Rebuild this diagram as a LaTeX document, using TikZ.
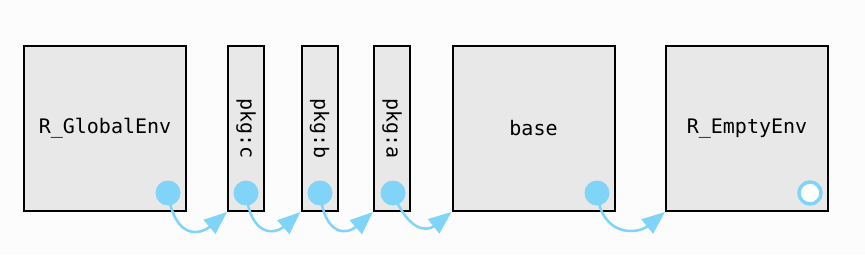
\documentclass[tikz,border=0pt]{standalone}
\usepackage{fontspec}
\setmonofont{DejaVu Sans Mono}
\usetikzlibrary{arrows.meta}
\definecolor{bgc}{HTML}{FCFCFC}
\definecolor{boxc}{HTML}{E8E8E8}
\definecolor{dotc}{HTML}{7FD4F8}
\begin{document}
\begin{tikzpicture}[x=1pt,y=1pt,
  envbox/.style={draw=black,fill=boxc,line width=2pt,minimum height=165pt,inner sep=0pt,font=\ttfamily\fontsize{20}{24}\selectfont},
  bigbox/.style={envbox,minimum width=162pt},
  pkgbox/.style={envbox,minimum width=36pt},
  dotnode/.style={circle,fill=dotc,minimum size=25pt,inner sep=0pt},
  ringnode/.style={circle,draw=dotc,fill=white,line width=3.5pt,minimum size=22pt,inner sep=0pt},
  conn/.style={draw=dotc,line width=2.5pt,-{Triangle[length=23pt,width=18pt]}}]
\fill[bgc] (0,0) rectangle (865,255);
\useasboundingbox (0,0) rectangle (865,255);
\node[bigbox] (g) at (105,126.5) {R\_GlobalEnv};
\node[pkgbox] (c) at (246,126.5) {\rotatebox{-90}{pkg:c}};
\node[pkgbox] (b) at (319.5,126.5) {\rotatebox{-90}{pkg:b}};
\node[pkgbox] (a) at (392,126.5) {\rotatebox{-90}{pkg:a}};
\node[bigbox] (base) at (533.5,126.5) {base};
\node[bigbox] (e) at (747,126.5) {R\_EmptyEnv};
\node[dotnode] (dg) at (168,62) {};
\node[dotnode] (dc) at (246,62) {};
\node[dotnode] (db) at (320,62) {};
\node[dotnode] (da) at (393,62) {};
\node[dotnode] (dbase) at (597,62) {};
\node[ringnode] (de) at (810,62) {};
\draw[conn] (dg.center) .. controls +(7,-47) and +(-27,-23) .. (c.south west);
\draw[conn] (dc.center) .. controls +(5,-45) and +(-25,-22) .. (b.south west);
\draw[conn] (db.center) .. controls +(5,-45) and +(-25,-22) .. (a.south west);
\draw[conn] (da.center) .. controls +(15,-38) and +(-25,-20) .. (base.south west);
\draw[conn] (dbase.center) .. controls +(5,-45) and +(-27,-22) .. (e.south west);
\end{tikzpicture}
\end{document}
